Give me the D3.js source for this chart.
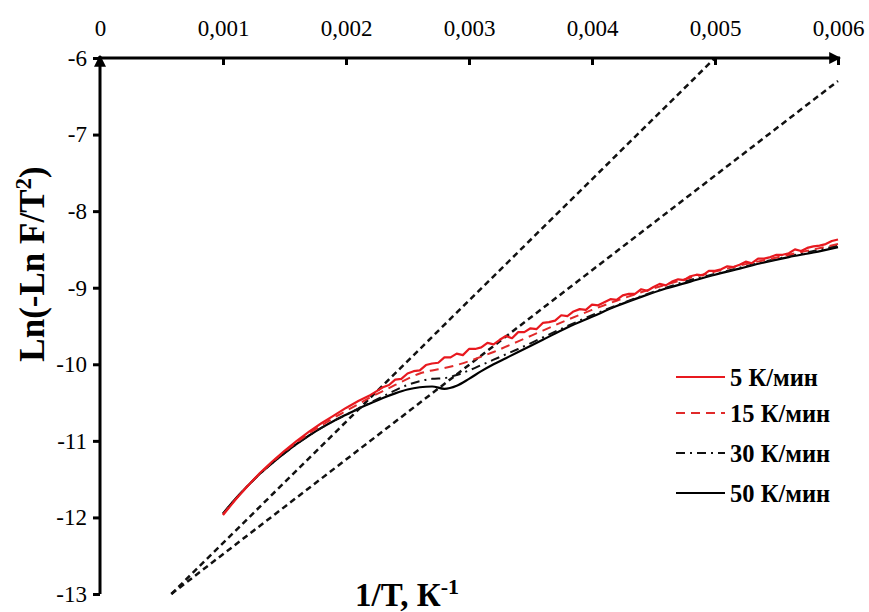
<!DOCTYPE html>
<html>
<head>
<meta charset="utf-8">
<script src="https://cdn.jsdelivr.net/npm/d3@7"></script>
<style>
  html, body { margin: 0; padding: 0; background: #fff; }
  svg { display: block; }
  text { font-family: "Liberation Serif", "Times New Roman", serif; fill: #000; }
</style>
</head>
<body>
<svg id="chart" width="869" height="612"></svg>
<script>
// Axis ticks and labels
const xTicks = [0, 0.001, 0.002, 0.003, 0.004, 0.005, 0.006];
const xTickLabels = ["0", "0,001", "0,002", "0,003", "0,004", "0,005", "0,006"];
const yTicks = [-6, -7, -8, -9, -10, -11, -12, -13];
const yTickLabels = ["-6", "-7", "-8", "-9", "-10", "-11", "-12", "-13"];

// Heating-rate legend names
const seriesNames = ["5 К/мин", "15 К/мин", "30 К/мин", "50 К/мин"];

// 5 K/min
const x5 = [0.0010, 0.0011, 0.0012, 0.0013, 0.0014, 0.0015, 0.0016, 0.0017, 0.0018, 0.0019, 0.0020, 0.0021,
  0.00220, 0.00225, 0.00230, 0.00235, 0.00240, 0.00245, 0.00250, 0.00255, 0.00260, 0.00265, 0.00270, 0.00275,
  0.00280, 0.00285, 0.00290, 0.00295, 0.00300, 0.00305, 0.00310, 0.00315, 0.00320, 0.00325, 0.00330, 0.00335,
  0.00340, 0.00345, 0.00350, 0.00355, 0.00360, 0.00365, 0.00370, 0.00375, 0.00380, 0.00385, 0.00390, 0.00395,
  0.00400, 0.00405, 0.00410, 0.00415, 0.00420, 0.00425, 0.00430, 0.00435, 0.00440, 0.00445, 0.00450, 0.00455,
  0.00460, 0.00465, 0.00470, 0.00475, 0.00480, 0.00485, 0.00490, 0.00495, 0.00500, 0.00505, 0.00510, 0.00515,
  0.00520, 0.00525, 0.00530, 0.00535, 0.00540, 0.00545, 0.00550, 0.00555, 0.00560, 0.00565, 0.00570, 0.00575,
  0.00580, 0.00585, 0.00590, 0.00595, 0.00600];
const y5 = [-11.97, -11.77, -11.59, -11.42, -11.27, -11.13, -11.00, -10.88, -10.77, -10.67, -10.57, -10.48,
  -10.40, -10.35, -10.30, -10.27, -10.20, -10.19, -10.12, -10.09, -10.08, -10.01, -9.99, -9.98,
  -9.91, -9.91, -9.86, -9.88, -9.80, -9.80, -9.78, -9.72, -9.74, -9.68, -9.63, -9.66,
  -9.58, -9.58, -9.53, -9.54, -9.46, -9.45, -9.43, -9.36, -9.37, -9.31, -9.28, -9.29,
  -9.22, -9.23, -9.19, -9.15, -9.16, -9.10, -9.08, -9.08, -9.02, -9.04, -8.99, -8.95,
  -8.97, -8.92, -8.89, -8.90, -8.85, -8.83, -8.84, -8.78, -8.78, -8.76, -8.72, -8.73,
  -8.70, -8.66, -8.68, -8.62, -8.62, -8.60, -8.57, -8.57, -8.55, -8.50, -8.52, -8.48,
  -8.46, -8.45, -8.43, -8.39, -8.37];

// 15 K/min
const x15 = [0.0010, 0.0011, 0.0012, 0.0013, 0.0014, 0.0015, 0.0016, 0.0017, 0.0018, 0.0019, 0.0020, 0.0021,
  0.0022, 0.0023, 0.0024, 0.0025, 0.0026, 0.0027, 0.0028, 0.0029, 0.0030, 0.0031, 0.0032, 0.0033, 0.0034,
  0.0036, 0.0038, 0.0040, 0.0042, 0.0044, 0.0046, 0.0048, 0.0050, 0.0052, 0.0054, 0.0056, 0.0058, 0.0060];
const y15 = [-11.96, -11.77, -11.59, -11.43, -11.28, -11.14, -11.02, -10.90, -10.80, -10.70, -10.61, -10.52,
  -10.43, -10.35, -10.27, -10.19, -10.12, -10.08, -10.05, -10.01, -9.96, -9.90, -9.84, -9.77, -9.70,
  -9.56, -9.42, -9.29, -9.17, -9.06, -8.96, -8.87, -8.79, -8.71, -8.64, -8.57, -8.50, -8.43];

// 30 K/min
const x30 = [0.0010, 0.0011, 0.0012, 0.0013, 0.0014, 0.0015, 0.0016, 0.0017, 0.0018, 0.0019, 0.0020, 0.0021,
  0.0022, 0.0023, 0.0024, 0.0025, 0.0026, 0.0027, 0.0028, 0.0029, 0.0030, 0.0031, 0.0032, 0.0033, 0.0034,
  0.0036, 0.0038, 0.0040, 0.0042, 0.0044, 0.0046, 0.0048, 0.0050, 0.0052, 0.0054, 0.0056, 0.0058, 0.0060];
const y30 = [-11.95, -11.76, -11.59, -11.43, -11.29, -11.16, -11.04, -10.93, -10.83, -10.74, -10.66, -10.58,
  -10.50, -10.42, -10.34, -10.27, -10.22, -10.19, -10.18, -10.14, -10.08, -10.01, -9.94, -9.87, -9.80,
  -9.65, -9.50, -9.36, -9.23, -9.11, -9.00, -8.90, -8.82, -8.74, -8.66, -8.59, -8.52, -8.45];

// 50 K/min
const x50 = [0.0010, 0.0011, 0.0012, 0.0013, 0.0014, 0.0015, 0.0016, 0.0017, 0.0018, 0.0019, 0.0020, 0.0021,
  0.0022, 0.0023, 0.0024, 0.0025, 0.0026, 0.0027, 0.0028, 0.0029, 0.0030, 0.0031, 0.0032, 0.0033, 0.0034,
  0.0036, 0.0038, 0.0040, 0.0042, 0.0044, 0.0046, 0.0048, 0.0050, 0.0052, 0.0054, 0.0056, 0.0058, 0.0060];
const y50 = [-11.95, -11.76, -11.59, -11.43, -11.29, -11.16, -11.04, -10.93, -10.83, -10.74, -10.66, -10.58,
  -10.51, -10.44, -10.38, -10.33, -10.30, -10.29, -10.32, -10.28, -10.19, -10.09, -10.00, -9.92, -9.84,
  -9.68, -9.52, -9.38, -9.24, -9.12, -9.01, -8.92, -8.83, -8.75, -8.67, -8.60, -8.54, -8.47];

// Straight reference lines (start and end points in data units)
const fitX0 = [0.00058, 0.00058];
const fitY0 = [-13, -13];
const fitX1 = [0.0050, 0.0060];
const fitY1 = [-6.0, -6.3];

const svg = d3.select("#chart");

const x = d3.scaleLinear().domain([0, 0.006]).range([100, 838]);
const y = d3.scaleLinear().domain([-13, -6]).range([594, 58]);

// Arrow marker for the axes
const defs = svg.append("defs");
defs.append("marker")
  .attr("id", "arrow")
  .attr("viewBox", "0 0 10 10")
  .attr("refX", 9).attr("refY", 5)
  .attr("markerWidth", 4).attr("markerHeight", 4)
  .attr("markerUnits", "strokeWidth")
  .attr("orient", "auto")
  .append("path").attr("d", "M0,0 L10,5 L0,10 Z").attr("fill", "#000");

// Fit lines
const fits = fitX0.map((d, i) => ({ x0: d, y0: fitY0[i], x1: fitX1[i], y1: fitY1[i] }));
svg.append("g").selectAll("line").data(fits).join("line")
  .attr("x1", d => x(d.x0)).attr("y1", d => y(d.y0))
  .attr("x2", d => x(d.x1)).attr("y2", d => y(d.y1))
  .attr("stroke", "#111").attr("stroke-width", 2.5)
  .attr("stroke-dasharray", "6,4");

// Data series
const series = [
  { name: seriesNames[0], xs: x5, ys: y5, color: "#e8191f", dash: null, width: 2.2, curve: d3.curveLinear },
  { name: seriesNames[1], xs: x15, ys: y15, color: "#e02a2a", dash: "9,6", width: 2.0, curve: d3.curveMonotoneX },
  { name: seriesNames[2], xs: x30, ys: y30, color: "#111", dash: "9,5,2,5", width: 2.0, curve: d3.curveMonotoneX },
  { name: seriesNames[3], xs: x50, ys: y50, color: "#000", dash: null, width: 2.2, curve: d3.curveMonotoneX }
];

const drawOrder = [3, 2, 1, 0];
svg.append("g").selectAll("path").data(drawOrder.map(i => series[i])).join("path")
  .attr("d", s => d3.line().x(d => x(d[0])).y(d => y(d[1])).curve(s.curve)(s.xs.map((v, i) => [v, s.ys[i]])))
  .attr("fill", "none")
  .attr("stroke", s => s.color)
  .attr("stroke-width", s => s.width)
  .attr("stroke-dasharray", s => s.dash)
  .attr("stroke-linejoin", "round");

// Y axis (left, ticks outward)
const yAxis = d3.axisLeft(y).tickValues(yTicks)
  .tickFormat((d, i) => yTickLabels[i]).tickSizeOuter(0).tickSize(7).tickPadding(6);
const gy = svg.append("g").attr("transform", `translate(${x(0)},0)`).call(yAxis);
gy.select(".domain").remove();
gy.selectAll(".tick line").attr("stroke", "#000").attr("stroke-width", 3);
gy.selectAll(".tick text")
  .style("font-family", "'Liberation Serif', serif").style("font-size", "23px");

// X axis (top, ticks pointing down into the plot)
const xAxis = d3.axisTop(x).tickValues(xTicks)
  .tickFormat((d, i) => xTickLabels[i]).tickSizeOuter(0).tickSizeInner(-7).tickPadding(22);
const gx = svg.append("g").attr("transform", `translate(0,${y(-6)})`).call(xAxis);
gx.select(".domain").remove();
gx.selectAll(".tick line").attr("stroke", "#000").attr("stroke-width", 3);
gx.selectAll(".tick text")
  .style("font-family", "'Liberation Serif', serif").style("font-size", "23px");

// Axis lines with arrowheads
svg.append("line")
  .attr("x1", x(0)).attr("y1", y(-13)).attr("x2", x(0)).attr("y2", y(-6) - 2)
  .attr("stroke", "#000").attr("stroke-width", 3).attr("marker-end", "url(#arrow)");
svg.append("line")
  .attr("x1", x(0) - 1.5).attr("y1", y(-6)).attr("x2", x(0.006) + 2).attr("y2", y(-6))
  .attr("stroke", "#000").attr("stroke-width", 3).attr("marker-end", "url(#arrow)");

// Axis titles
const yTitle = svg.append("text")
  .attr("transform", `translate(44,264) rotate(-90)`)
  .attr("text-anchor", "middle")
  .style("font-size", "35px").style("font-weight", "bold");
yTitle.append("tspan").text("Ln(-Ln F/T");
yTitle.append("tspan").text("2").attr("dy", -13).style("font-size", "23px");
yTitle.append("tspan").text(")").attr("dy", 13);

const xTitle = svg.append("text")
  .attr("x", 407).attr("y", 606)
  .attr("text-anchor", "middle")
  .style("font-size", "33px").style("font-weight", "bold");
xTitle.append("tspan").text("1/T, К");
xTitle.append("tspan").text("-1").attr("dy", -12).style("font-size", "22px");

// Legend
const legendY = [377, 413, 453, 493];
const lg = svg.append("g");
series.forEach((s, i) => {
  lg.append("line")
    .attr("x1", 676).attr("x2", 725)
    .attr("y1", legendY[i]).attr("y2", legendY[i])
    .attr("stroke", s.color).attr("stroke-width", s.width)
    .attr("stroke-dasharray", s.dash);
  lg.append("text")
    .attr("x", 730).attr("y", legendY[i]).attr("dy", "0.35em")
    .style("font-size", "24.5px").style("font-weight", "bold")
    .text(s.name);
});
</script>
</body>
</html>
